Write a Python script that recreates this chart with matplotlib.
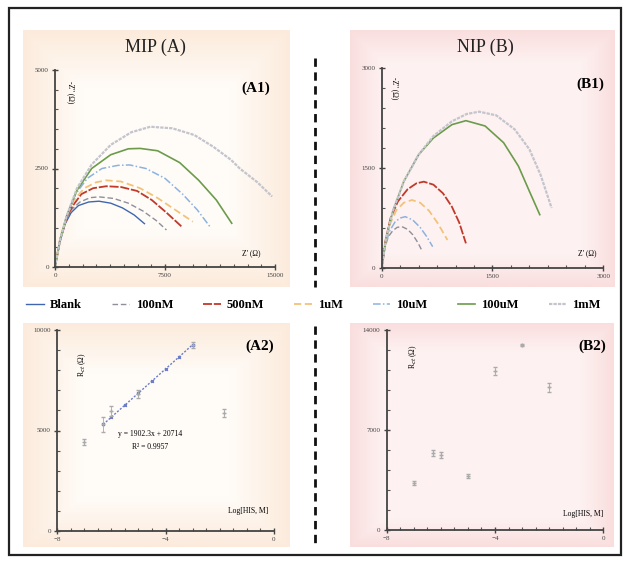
import numpy as np
import matplotlib
matplotlib.use("Agg")
import matplotlib.pyplot as plt
from matplotlib.lines import Line2D
from matplotlib.patches import Rectangle
from matplotlib.colors import to_rgb
from matplotlib.ticker import MultipleLocator

W, H = 627, 565
plt.rcParams['font.family'] = ['Liberation Serif', 'DejaVu Serif']

# ---- data ----
series_names = ["Blank", "100nM", "500nM", "1uM", "10uM", "100uM", "1mM"]

# MIP (A1) Nyquist curves: Z' (ohm), -Z'' (ohm)
a1_blank_x = [0, 350, 700, 1100, 1600, 2300, 3000, 3800, 4600, 5400, 6100]
a1_blank_y = [0, 650, 1100, 1380, 1560, 1650, 1670, 1620, 1500, 1320, 1100]
a1_100n_x = [0, 350, 700, 1100, 1700, 2400, 3000, 4000, 5000, 6000, 6900, 7600]
a1_100n_y = [0, 650, 1150, 1450, 1650, 1760, 1780, 1740, 1620, 1420, 1180, 940]
a1_500n_x = [0, 350, 800, 1200, 1800, 2600, 3500, 4500, 5600, 6600, 7600, 8650]
a1_500n_y = [0, 700, 1250, 1550, 1850, 2000, 2050, 2030, 1930, 1700, 1380, 1020]
a1_1u_x = [0, 350, 800, 1300, 2000, 2800, 3500, 4500, 5800, 7000, 8200, 9400]
a1_1u_y = [0, 700, 1300, 1700, 2000, 2150, 2200, 2170, 2000, 1750, 1450, 1150]
a1_10u_x = [0, 350, 800, 1400, 2200, 3200, 4300, 5100, 6200, 7500, 8700, 9700, 10570]
a1_10u_y = [0, 700, 1300, 1850, 2250, 2500, 2580, 2590, 2500, 2250, 1850, 1450, 1020]
a1_100u_x = [0, 350, 800, 1500, 2500, 3800, 5000, 5800, 7000, 8500, 9800, 11000, 12050]
a1_100u_y = [0, 700, 1300, 1950, 2500, 2850, 3000, 3010, 2950, 2650, 2200, 1700, 1110]
a1_1m_x = [0, 350, 800, 1500, 2500, 3800, 5200, 6500, 8000, 9500, 10800, 12000, 12600, 13800, 14800]
a1_1m_y = [0, 700, 1300, 2000, 2600, 3100, 3420, 3560, 3520, 3350, 3050, 2720, 2500, 2150, 1790]

# NIP (B1) Nyquist curves
b1_100n_x = [0, 40, 90, 150, 210, 275, 350, 420, 490, 550]
b1_100n_y = [0, 300, 470, 560, 610, 620, 580, 500, 380, 250]
b1_10u_x = [0, 50, 110, 180, 250, 320, 420, 520, 610, 690]
b1_10u_y = [0, 350, 560, 690, 750, 770, 720, 610, 470, 320]
b1_1u_x = [0, 50, 120, 200, 300, 410, 520, 640, 760, 890]
b1_1u_y = [0, 380, 680, 870, 980, 1020, 980, 860, 670, 420]
b1_500n_x = [0, 50, 120, 220, 350, 470, 570, 700, 830, 950, 1050, 1140]
b1_500n_y = [0, 400, 750, 1000, 1180, 1270, 1295, 1250, 1120, 920, 680, 370]
b1_100u_x = [0, 60, 150, 300, 500, 700, 950, 1140, 1400, 1650, 1850, 2000, 2140]
b1_100u_y = [0, 450, 850, 1300, 1700, 1950, 2150, 2210, 2130, 1880, 1530, 1150, 800]
b1_1m_x = [0, 60, 150, 300, 500, 700, 950, 1150, 1320, 1550, 1800, 2000, 2150, 2300]
b1_1m_y = [0, 450, 850, 1300, 1700, 1980, 2200, 2310, 2345, 2290, 2080, 1780, 1400, 900]

# A2: Rct vs Log[HIS]
a2_x = [-7.0, -6.3, -6.0, -5.0, -3.0, -1.85]
a2_y = [4450, 5300, 5950, 6800, 9250, 5870]
a2_err = [150, 350, 250, 200, 150, 200]
a2_fit_x = [-6.3, -6.0, -5.5, -5.0, -4.5, -4.0, -3.5, -3.0]
a2_fit_y = [5300, 5660, 6260, 6860, 7460, 8060, 8660, 9270]

# B2
b2_x = [-7.0, -6.3, -6.0, -5.0, -4.0, -3.0, -2.0]
b2_y = [3300, 5370, 5230, 3780, 11130, 12950, 9990]
b2_err = [150, 200, 200, 150, 300, 100, 300]

# ---- styles ----
colors = {"Blank": "#3f67b0", "100nM": "#8f8f9a", "500nM": "#c0392b", "1uM": "#f3c27a",
          "10uM": "#8db2df", "100uM": "#6b9b4b", "1mM": "#c4c4cc"}
styles = {"Blank": "-", "100nM": (0, (4, 2)), "500nM": (0, (5, 1)), "1uM": (0, (4, 2)),
          "10uM": (0, (5, 1.5, 1, 1.5)), "100uM": "-", "1mM": (0, (1.5, 0.5))}
widths = {"Blank": 1.0, "100nM": 1.0, "500nM": 1.3, "1uM": 1.3, "10uM": 1.1, "100uM": 1.2, "1mM": 1.6}

fig = plt.figure(figsize=(W / 100, H / 100), dpi=100)


def axes_px(x0, y0, x1, y1):
    return fig.add_axes([x0 / W, 1 - y1 / H, (x1 - x0) / W, (y1 - y0) / H])


def panel_bg(x0, y0, x1, y1, edge, center, cut=0.55):
    ax = axes_px(x0, y0, x1, y1)
    u = np.linspace(-1, 1, 200)
    U, V = np.meshgrid(u, u)
    t = np.clip((np.maximum(abs(U), abs(V)) - cut) / (1 - cut), 0, 1)[..., None]
    img = np.array(to_rgb(center)) * (1 - t) + np.array(to_rgb(edge)) * t
    ax.imshow(img, aspect='auto', extent=[0, 1, 0, 1])
    ax.axis('off')


panel_bg(23, 30, 290, 287, "#fcebdc", "#fffcf8")
panel_bg(350, 30, 615, 287, "#fadede", "#fdf2f1", cut=0.75)
panel_bg(23, 323, 290, 547, "#fcebdc", "#fffcf8")
panel_bg(350, 323, 614, 547, "#fadede", "#fdf2f1", cut=0.75)


def style(ax, xmaj, xmin, ymaj, ymin):
    ax.set_facecolor('none')
    for s in ['top', 'right']:
        ax.spines[s].set_visible(False)
    for s in ['left', 'bottom']:
        ax.spines[s].set_color('#444444')
        ax.spines[s].set_linewidth(1.3)
    ax.xaxis.set_major_locator(MultipleLocator(xmaj))
    ax.xaxis.set_minor_locator(MultipleLocator(xmin))
    ax.yaxis.set_major_locator(MultipleLocator(ymaj))
    ax.yaxis.set_minor_locator(MultipleLocator(ymin))
    ax.tick_params(which='major', direction='inout', length=5, width=1, labelsize=5,
                   colors='#444444', pad=2)
    ax.tick_params(which='minor', direction='in', length=2.5, width=0.8, colors='#555555')


# A1
ax1 = axes_px(55, 70, 275, 267)
a1 = {"Blank": (a1_blank_x, a1_blank_y), "100nM": (a1_100n_x, a1_100n_y),
      "500nM": (a1_500n_x, a1_500n_y), "1uM": (a1_1u_x, a1_1u_y),
      "10uM": (a1_10u_x, a1_10u_y), "100uM": (a1_100u_x, a1_100u_y),
      "1mM": (a1_1m_x, a1_1m_y)}
handles = []
for name in series_names:
    x, y = a1[name]
    ln, = ax1.plot(x, y, color=colors[name], linestyle=styles[name], lw=widths[name], label=name)
    handles.append(ln)
ax1.set_xlim(0, 15000)
ax1.set_ylim(0, 5000)
style(ax1, 7500, 937.5, 2500, 500)

# B1
ax2 = axes_px(381.7, 68, 603.3, 268)
b1 = {"100nM": (b1_100n_x, b1_100n_y), "10uM": (b1_10u_x, b1_10u_y),
      "1uM": (b1_1u_x, b1_1u_y), "500nM": (b1_500n_x, b1_500n_y),
      "100uM": (b1_100u_x, b1_100u_y), "1mM": (b1_1m_x, b1_1m_y)}
for name, (x, y) in b1.items():
    ax2.plot(x, y, color=colors[name], linestyle=styles[name], lw=widths[name])
ax2.set_xlim(0, 3000)
ax2.set_ylim(0, 3000)
style(ax2, 1500, 250, 1500, 300)

# A2
ax3 = axes_px(57, 330, 274, 531)
ax3.plot(a2_fit_x, a2_fit_y, color='#6a7cc8', linestyle=(0, (1.5, 1.2)), lw=1.0,
         marker='x', markersize=2, markevery=1)
ax3.errorbar(a2_x, a2_y, yerr=a2_err, fmt='+', color='#aaaaaa', markersize=3.5,
             elinewidth=0.6, capsize=1.2, lw=0)
ax3.set_xlim(-8, 0)
ax3.set_ylim(0, 10000)
style(ax3, 4, 0.5, 5000, 1000)

# B2
ax4 = axes_px(386.7, 330, 603.3, 530)
ax4.errorbar(b2_x, b2_y, yerr=b2_err, fmt='+', color='#aaaaaa', markersize=3.5,
             elinewidth=0.6, capsize=1.2, lw=0)
ax4.set_xlim(-8, 0)
ax4.set_ylim(0, 14000)
style(ax4, 4, 0.5, 7000, 1400)


def ftext(x, y, s, **kw):
    fig.text(x / W, 1 - y / H, s, **kw)


# titles and labels
ftext(155, 47, "MIP (A)", fontsize=13, ha='center', va='center', color='#222222')
ftext(485, 47, "NIP (B)", fontsize=13, ha='center', va='center', color='#222222')
ftext(256, 88, "(A1)", fontsize=11, fontweight='bold', ha='center', va='center')
ftext(590, 84, "(B1)", fontsize=11, fontweight='bold', ha='center', va='center')
ftext(260, 346, "(A2)", fontsize=11, fontweight='bold', ha='center', va='center')
ftext(592, 346, "(B2)", fontsize=11, fontweight='bold', ha='center', va='center')

ftext(71, 92, "-Z'' (\u03a9)", fontsize=5.5, rotation=-90, ha='center', va='center')
ftext(395, 88, "-Z'' (\u03a9)", fontsize=5.5, rotation=-90, ha='center', va='center')
ftext(251, 253, "Z' (\u03a9)", fontsize=5.5, ha='center', va='center')
ftext(587, 253, "Z' (\u03a9)", fontsize=5.5, ha='center', va='center')
ftext(82, 365, "R$_{ct}$ (\u03a9)", fontsize=5.5, rotation=90, ha='center', va='center')
ftext(413, 357, "R$_{ct}$ (\u03a9)", fontsize=5.5, rotation=90, ha='center', va='center')
ftext(248, 511, "Log[HIS, M]", fontsize=5.5, ha='center', va='center')
ftext(583, 514, "Log[HIS, M]", fontsize=5.5, ha='center', va='center')
ftext(150, 434, "y = 1902.3x + 20714", fontsize=5.5, ha='center', va='center')
ftext(150, 447, "R\u00b2 = 0.9957", fontsize=5.5, ha='center', va='center')

# legend row
fig.legend(handles=handles, labels=series_names, loc='center', ncol=7,
           bbox_to_anchor=(0.5, 1 - 305 / H), frameon=False,
           prop={'weight': 'bold', 'size': 9}, handlelength=1.4, handletextpad=0.5,
           columnspacing=2.4)

# dashed divider
for y0, y1 in [(58, 287), (326, 548)]:
    fig.add_artist(Line2D([315 / W, 315 / W], [1 - y0 / H, 1 - y1 / H], color='#111111',
                          lw=2, linestyle=(0, (3, 2))))

# outer frame
fig.add_artist(Rectangle((9 / W, 1 - 555 / H), 612 / W, 547 / H, fill=False,
                         edgecolor='#222222', lw=1.6))

fig.savefig("out.png", dpi=100)
